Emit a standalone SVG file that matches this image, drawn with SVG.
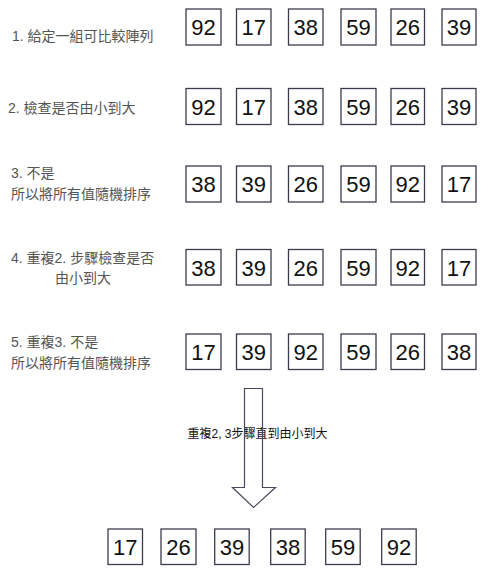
<svg xmlns="http://www.w3.org/2000/svg" width="489" height="586" viewBox="0 0 489 586">
<style>
.box{fill:#fff;stroke:#3c3c4c;stroke-width:1.3}
.num{font-family:"Liberation Sans",Arial,sans-serif;font-size:22px;fill:#111;text-anchor:middle}
.lbl{font-family:"Liberation Sans","Noto Sans CJK TC",sans-serif;font-size:14px;fill:#555}
.arr{font-family:"Liberation Sans","Noto Sans CJK TC",sans-serif;font-size:12px;fill:#111}
.shape{fill:none;stroke:#4a4a5e;stroke-width:1.2}
</style>
<rect width="489" height="586" fill="#fff"/>
<g id="labels">
<text class="lbl" x="12" y="41">1. 給定一組可比較陣列</text>
<text class="lbl" x="8" y="113">2. 檢查是否由小到大</text>
<text class="lbl" x="11" y="178">3. 不是</text>
<text class="lbl" x="11" y="199">所以將所有值隨機排序</text>
<text class="lbl" x="11" y="263">4. 重複2. 步驟檢查是否</text>
<text class="lbl" x="55" y="283">由小到大</text>
<text class="lbl" x="11" y="347">5. 重複3. 不是</text>
<text class="lbl" x="11" y="368">所以將所有值隨機排序</text>
</g>
<g id="row1">
<rect class="box" x="186" y="9" width="35" height="36"/><text class="num" x="203.5" y="35">92</text>
<rect class="box" x="236.5" y="9" width="34.5" height="36"/><text class="num" x="253.7" y="35">17</text>
<rect class="box" x="288.5" y="9" width="34.5" height="36"/><text class="num" x="305.7" y="35">38</text>
<rect class="box" x="341" y="9" width="35" height="36"/><text class="num" x="358.5" y="35">59</text>
<rect class="box" x="391" y="9" width="33.5" height="36"/><text class="num" x="407.7" y="35">26</text>
<rect class="box" x="442" y="9" width="34" height="36"/><text class="num" x="459" y="35">39</text>
</g>
<g id="row2">
<rect class="box" x="186" y="88.5" width="35" height="36"/><text class="num" x="203.5" y="114.5">92</text>
<rect class="box" x="236.5" y="88.5" width="34.5" height="36"/><text class="num" x="253.7" y="114.5">17</text>
<rect class="box" x="288.5" y="88.5" width="34.5" height="36"/><text class="num" x="305.7" y="114.5">38</text>
<rect class="box" x="341" y="88.5" width="35" height="36"/><text class="num" x="358.5" y="114.5">59</text>
<rect class="box" x="391" y="88.5" width="33.5" height="36"/><text class="num" x="407.7" y="114.5">26</text>
<rect class="box" x="442" y="88.5" width="34" height="36"/><text class="num" x="459" y="114.5">39</text>
</g>
<g id="row3">
<rect class="box" x="186" y="166" width="35" height="36"/><text class="num" x="203.5" y="192">38</text>
<rect class="box" x="236.5" y="166" width="34.5" height="36"/><text class="num" x="253.7" y="192">39</text>
<rect class="box" x="288.5" y="166" width="34.5" height="36"/><text class="num" x="305.7" y="192">26</text>
<rect class="box" x="341" y="166" width="35" height="36"/><text class="num" x="358.5" y="192">59</text>
<rect class="box" x="391" y="166" width="33.5" height="36"/><text class="num" x="407.7" y="192">92</text>
<rect class="box" x="442" y="166" width="34" height="36"/><text class="num" x="459" y="192">17</text>
</g>
<g id="row4">
<rect class="box" x="186" y="249.5" width="35" height="35.5"/><text class="num" x="203.5" y="275.5">38</text>
<rect class="box" x="236.5" y="249.5" width="34.5" height="35.5"/><text class="num" x="253.7" y="275.5">39</text>
<rect class="box" x="288.5" y="249.5" width="34.5" height="35.5"/><text class="num" x="305.7" y="275.5">26</text>
<rect class="box" x="341" y="249.5" width="35" height="35.5"/><text class="num" x="358.5" y="275.5">59</text>
<rect class="box" x="391" y="249.5" width="33.5" height="35.5"/><text class="num" x="407.7" y="275.5">92</text>
<rect class="box" x="442" y="249.5" width="34" height="35.5"/><text class="num" x="459" y="275.5">17</text>
</g>
<g id="row5">
<rect class="box" x="186" y="334" width="35" height="35.5"/><text class="num" x="203.5" y="360">17</text>
<rect class="box" x="236.5" y="334" width="34.5" height="35.5"/><text class="num" x="253.7" y="360">39</text>
<rect class="box" x="288.5" y="334" width="34.5" height="35.5"/><text class="num" x="305.7" y="360">92</text>
<rect class="box" x="341" y="334" width="35" height="35.5"/><text class="num" x="358.5" y="360">59</text>
<rect class="box" x="391" y="334" width="33.5" height="35.5"/><text class="num" x="407.7" y="360">26</text>
<rect class="box" x="442" y="334" width="34" height="35.5"/><text class="num" x="459" y="360">38</text>
</g>
<g id="connectors">
<text class="arr" x="187.5" y="438">重複2, 3步驟直到由小到大</text>
<polygon class="shape" points="244.5,388.5 262.5,388.5 262.5,487.5 275.5,487.5 253.5,507.5 232.5,487.5 244.5,487.5"/>
</g>
<g id="result">
<rect class="box" x="108" y="529" width="34.5" height="35.5"/><text class="num" x="125.3" y="555">17</text>
<rect class="box" x="161" y="529" width="35" height="35.5"/><text class="num" x="178.5" y="555">26</text>
<rect class="box" x="214.7" y="529" width="34.5" height="35.5"/><text class="num" x="232" y="555">39</text>
<rect class="box" x="270.7" y="529" width="34.5" height="35.5"/><text class="num" x="288" y="555">38</text>
<rect class="box" x="325.7" y="529" width="34.5" height="35.5"/><text class="num" x="343" y="555">59</text>
<rect class="box" x="381.7" y="529" width="34.5" height="35.5"/><text class="num" x="399" y="555">92</text>
</g>
</svg>
